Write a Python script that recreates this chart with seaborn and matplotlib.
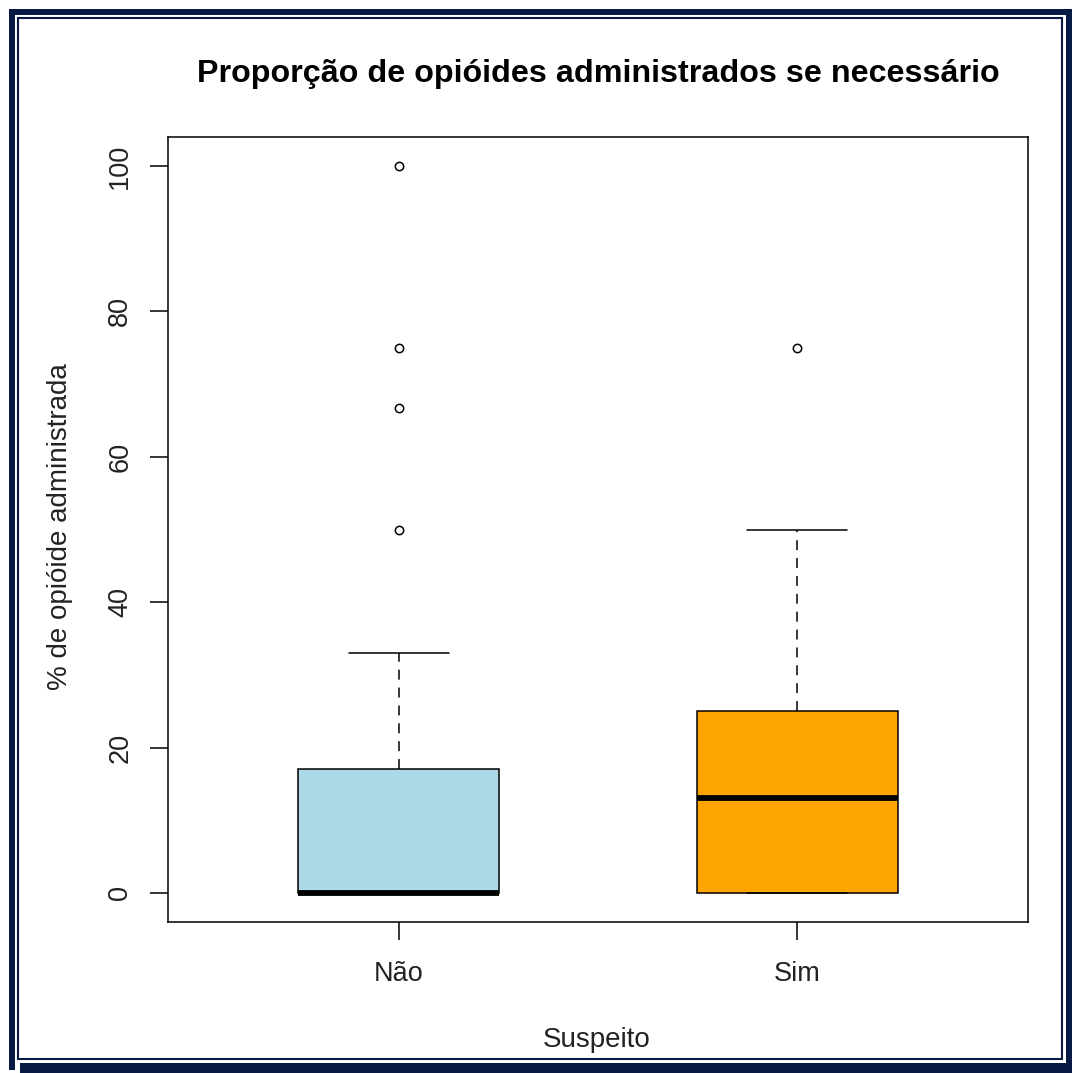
import numpy as np
import pandas as pd
import matplotlib
matplotlib.use("Agg")
import matplotlib.pyplot as plt
from matplotlib.patches import Rectangle
import seaborn as sns

# Percentage of as-needed opioid doses actually given, per patient
nao_values = [0, 0, 0, 0, 0, 0, 0, 0, 0, 0, 0, 0, 0,
              5, 8, 10, 12.5, 14.3, 17, 20, 33, 50, 66.7, 75, 100]
sim_values = [0, 0, 0, 0, 0, 0, 5, 7, 10, 11, 13,
              14, 17, 20, 22, 25, 28, 33, 40, 50, 75]
group_labels = ["Não", "Sim"]
box_colors = ["#ADD8E6", "#FFA500"]
y_ticks = [0, 20, 40, 60, 80, 100]

df = pd.DataFrame({
    "Suspeito": ["Não"] * len(nao_values) + ["Sim"] * len(sim_values),
    "pct": nao_values + sim_values,
})

sns.set_style("white")
plt.rcParams["font.family"] = ["Liberation Sans", "DejaVu Sans"]

W, H = 1072, 1073
fig = plt.figure(figsize=(W / 100, H / 100), dpi=100)
fig.patch.set_facecolor("white")


def fx(px):
    return px / W


def fy(py):
    return 1 - py / H


ax = fig.add_axes([fx(168), fy(922), fx(1028) - fx(168), fy(137) - fy(922)])

lw = 1.1
sns.boxplot(
    data=df, x="Suspeito", y="pct", order=group_labels, hue="Suspeito",
    hue_order=group_labels, palette=box_colors, saturation=1, legend=False,
    width=0.505, whis=1.5, linecolor="black", linewidth=lw,
    fliersize=6, ax=ax,
    medianprops={"linewidth": 4.2, "color": "black", "solid_capstyle": "butt"},
    whiskerprops={"linestyle": (0, (6.5, 5.2)), "linewidth": lw, "color": "black"},
    capprops={"linewidth": lw, "color": "black"},
    flierprops={"marker": "o", "markerfacecolor": "none",
                "markeredgecolor": "black", "markeredgewidth": 1.1},
)

ax.set_xlim(-0.58, 1.58)
ax.set_ylim(-4, 104)
ax.set_yticks(y_ticks)
ax.set_yticklabels([str(v) for v in y_ticks], rotation=90, va="center")
ax.set_xticks([0, 1])
ax.set_xticklabels(group_labels)
ax.tick_params(axis="both", direction="out", length=13, width=lw,
               color="black", labelsize=19.5, labelcolor="#222222",
               bottom=True, left=True, top=False, right=False)
ax.tick_params(axis="y", pad=12)
ax.tick_params(axis="x", pad=15)
for sp in ax.spines.values():
    sp.set_visible(True)
    sp.set_color("black")
    sp.set_linewidth(lw)
ax.set_xlabel("")
ax.set_ylabel("")

fig.text(fx(60), fy(527), "% de opióide administrada", rotation=90,
         ha="center", va="center", fontsize=20, color="#222222")
fig.text(fx(597), fy(1040), "Suspeito", ha="center", va="center",
         fontsize=20, color="#222222")
fig.text(fx(598), fy(74), "Proporção de opióides administrados se necessário",
         ha="center", va="center", fontsize=23.2, fontweight="bold", color="black")

# Navy picture frame around the figure
navy = "#061a44"


def px_rect(x0, y0, x1, y1, **kw):
    fig.add_artist(Rectangle((fx(x0), fy(y1)), fx(x1) - fx(x0), fy(y0) - fy(y1),
                             transform=fig.transFigure, **kw))


px_rect(9, 9, 1072, 15, facecolor=navy, edgecolor="none")
px_rect(9, 9, 15, 1070, facecolor=navy, edgecolor="none")
px_rect(1066, 9, 1072, 1073, facecolor=navy, edgecolor="none")
px_rect(20, 1063, 1072, 1073, facecolor=navy, edgecolor="none")
px_rect(18, 18, 1062, 1059, facecolor="none", edgecolor=navy, linewidth=1.5)

fig.savefig("out.png", dpi=100, facecolor="white")
